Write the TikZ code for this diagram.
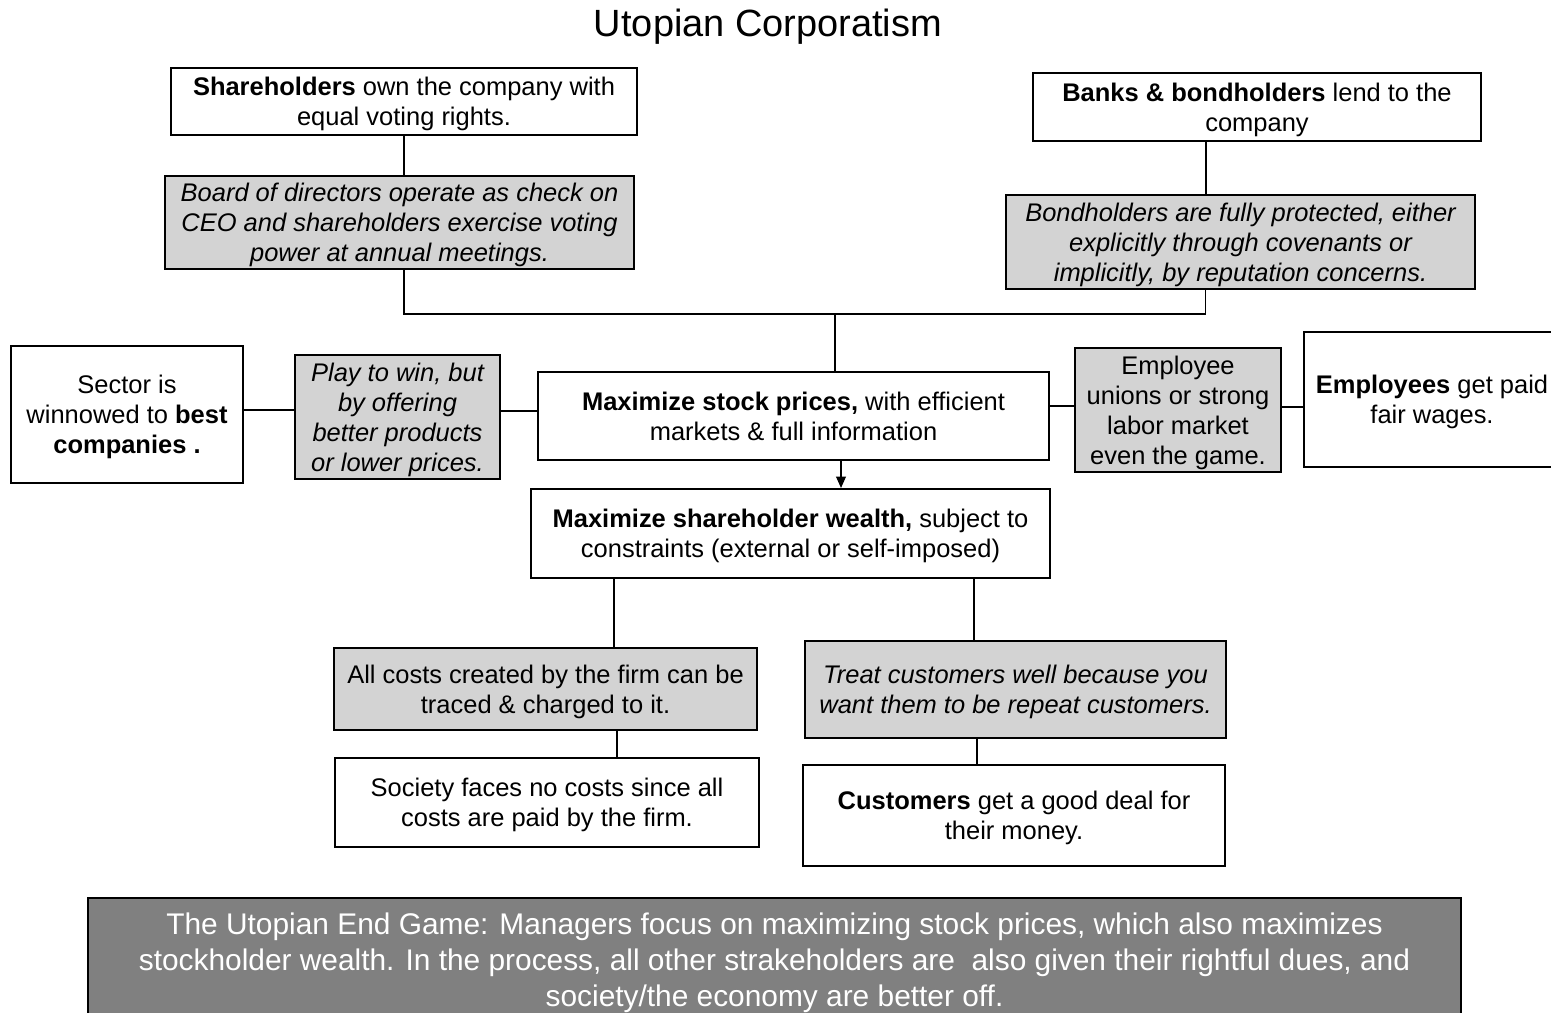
\documentclass[tikz,border=0pt]{standalone}
\usepackage{fontspec}
\setmainfont{Liberation Sans}
\usetikzlibrary{arrows.meta}
\def\pxu{0.02cm}
\definecolor{boxgray}{RGB}{211,211,211}
\definecolor{endgray}{RGB}{128,128,128}
\begin{document}
\begin{tikzpicture}[x=0.02cm,y=-0.02cm,
  box/.style={draw=black, line width=1.1pt, fill=white, inner sep=0pt, align=center,
    text depth=0pt, font=\fontsize{14.5}{17}\selectfont},
  gbox/.style={box, fill=boxgray},
  ibox/.style={gbox, font=\fontsize{14.5}{17}\selectfont\itshape},
  conn/.style={draw=black, line width=1pt}]
\clip (0,0) rectangle (1551,1013);
\useasboundingbox (0,0) rectangle (1551,1013);
\fill[white] (0,0) rectangle (1551,1013);

\node[anchor=base] (title) at (768,37) {\fontsize{21.6}{26}\selectfont Utopian Corporatism};

\node[box, minimum width=466*\pxu, minimum height=67*\pxu] (sh) at (404,101.5)
  {\textbf{Shareholders} own the company with\\equal voting rights.};
\node[ibox, minimum width=469*\pxu, minimum height=93*\pxu] (board) at (399.5,222.5)
  {Board of directors operate as check on\\CEO and shareholders exercise voting\\power at annual meetings.};
\node[box, minimum width=448*\pxu, minimum height=68*\pxu] (banks) at (1257,107)
  {\textbf{Banks \& bondholders} lend to the\\company};
\node[ibox, minimum width=469*\pxu, minimum height=94*\pxu] (bond) at (1240.5,242)
  {Bondholders are fully protected, either\\explicitly through covenants or\\implicitly, by reputation concerns.};
\node[box, minimum width=232*\pxu, minimum height=137*\pxu] (sector) at (127,414.5)
  {Sector is\\winnowed to \textbf{best}\\\textbf{companies .}};
\node[ibox, minimum width=205*\pxu, minimum height=124*\pxu] (play) at (397.5,417)
  {Play to win, but\\by offering\\better products\\or lower prices.};
\node[box, minimum width=511*\pxu, minimum height=88*\pxu] (msp) at (793.5,416)
  {\textbf{Maximize stock prices,} with efficient\\markets \& full information};
\node[gbox, minimum width=206*\pxu, minimum height=124*\pxu] (unions) at (1178,410)
  {Employee\\unions or strong\\labor market\\even the game.};
\node[box, minimum width=256*\pxu, minimum height=135*\pxu] (emp) at (1432,399.5)
  {\textbf{Employees} get paid\\fair wages.};
\node[box, minimum width=519*\pxu, minimum height=89*\pxu] (msw) at (790.5,533.5)
  {\textbf{Maximize shareholder wealth,} subject to\\constraints (external or self-imposed)};
\node[gbox, minimum width=423*\pxu, minimum height=82*\pxu] (costs) at (545.5,689)
  {All costs created by the firm can be\\traced \& charged to it.};
\node[ibox, minimum width=421*\pxu, minimum height=97*\pxu] (treat) at (1015.5,689.5)
  {Treat customers well because you\\want them to be repeat customers.};
\node[box, minimum width=424*\pxu, minimum height=89*\pxu] (society) at (547,802.5)
  {Society faces no costs since all\\costs are paid by the firm.};
\node[box, minimum width=422*\pxu, minimum height=101*\pxu] (cust) at (1014,815.5)
  {\textbf{Customers} get a good deal for\\their money.};
\node[draw=black, line width=1.4pt, fill=endgray, text=white, inner sep=0pt, align=center,
  minimum width=1373*\pxu, minimum height=124*\pxu, text depth=0pt,
  font=\fontsize{17}{20.4}\selectfont] (endgame) at (774.5,960)
  {The Utopian End Game: Managers focus on maximizing stock prices, which also maximizes\\
   stockholder wealth. In the process, all other strakeholders are\ \ also given their rightful dues, and\\
   society/the economy are better off.};

% connectors
\draw[conn] (sh.south) -- (sh.south |- board.north);
\coordinate (a2) at ([xshift=-51*\pxu]banks.south);
\draw[conn] (a2) -- (a2 |- bond.north);
\coordinate (jn) at (835,314);
\coordinate (a3) at ([xshift=-35*\pxu]bond.south);
\draw[conn] (sh.south |- board.south) |- (jn) -| (a3);
\draw[conn] (jn) -- (jn |- msp.north);
\coordinate (a5) at ([yshift=4.5*\pxu]sector.east);
\draw[conn] (a5) -- (a5 -| play.west);
\coordinate (a6) at ([yshift=6*\pxu]play.east);
\draw[conn] (a6) -- (a6 -| msp.west);
\coordinate (a7) at ([yshift=10*\pxu]msp.east);
\draw[conn] (a7) -- (a7 -| unions.west);
\coordinate (a8) at ([yshift=3*\pxu]unions.east);
\draw[conn] (a8) -- (a8 -| emp.west);
\coordinate (a9) at ([xshift=47.5*\pxu]msp.south);
\draw[conn, -{Triangle[length=6.5pt,width=5.5pt]}] (a9) -- (a9 |- msw.north);
\coordinate (a10) at ([xshift=-176.5*\pxu]msw.south);
\draw[conn] (a10) -- (a10 |- costs.north);
\coordinate (a11) at ([xshift=183.5*\pxu]msw.south);
\draw[conn] (a11) -- (a11 |- treat.north);
\coordinate (a12) at ([xshift=71.5*\pxu]costs.south);
\draw[conn] (a12) -- (a12 |- society.north);
\coordinate (a13) at ([xshift=-38.5*\pxu]treat.south);
\draw[conn] (a13) -- (a13 |- cust.north);
\end{tikzpicture}
\end{document}
